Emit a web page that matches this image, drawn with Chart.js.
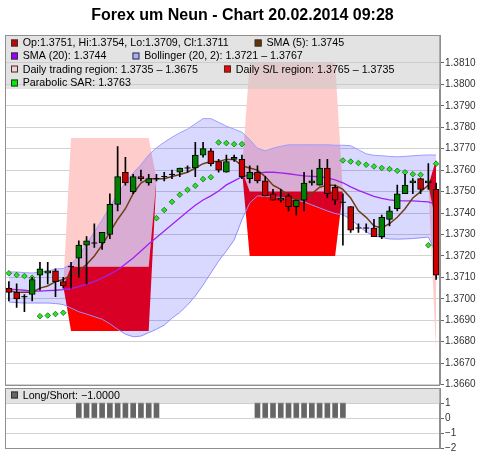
<!DOCTYPE html>
<html>
<head>
<meta charset="utf-8">
<script src="https://cdn.jsdelivr.net/npm/chart.js@4/dist/chart.umd.min.js"></script>
<style>
html, body { margin: 0; padding: 0; background: #fff; }
#wrap { position: relative; width: 480px; height: 457px; }
#wrap canvas { position: absolute; left: 0; top: 0; }
</style>
</head>
<body>
<div id="wrap">
  <canvas id="price" width="480" height="457"></canvas>
  <canvas id="signal" width="480" height="457"></canvas>
</div>
<script>
// EUR/USD M5 candles, 20.02.2014
const chartTitle = 'Forex um Neun - Chart 20.02.2014 09:28';

const opens = [1.3705,1.3703,1.3701,1.3702,1.3711,1.3712,1.3713,1.3708,1.3715,1.3719,
  1.3725,1.3726,1.3726,1.3730,1.3744,1.3759,1.3750,1.3757,1.3754,1.3756,
  1.3757,1.3758,1.3759,1.3761,1.3761,1.3767,1.3769,1.3764,1.3759,1.3765,
  1.3765,1.3756,1.3759,1.3755,1.3749,1.3746,1.3748,1.3743,1.3746,1.3754,
  1.3753,1.3761,1.3752,1.3745,1.3743,1.3733,1.3733,1.3733,1.3729,1.3737,
  1.3742,1.3749,1.3754,1.3756,1.3754,1.3751];
const highs = [1.3708,1.3707,1.3702,1.3710,1.3717,1.3717,1.3714,1.3710,1.3717,1.3727,
  1.3729,1.3735,1.3731,1.3749,1.3771,1.3766,1.3758,1.3760,1.3758,1.3758,
  1.3759,1.3760,1.3761,1.3762,1.3773,1.3773,1.3770,1.3765,1.3767,1.3767,
  1.3767,1.3762,1.3762,1.3757,1.3751,1.3751,1.3749,1.3746,1.3759,1.3760,
  1.3765,1.3765,1.3753,1.3749,1.3743,1.3735,1.3735,1.3737,1.3739,1.3743,
  1.3753,1.3758,1.3756,1.3756,1.3763,1.3754];
const lows = [1.3699,1.3696,1.3694,1.3699,1.3704,1.3707,1.3701,1.3705,1.3705,1.3710,
  1.3707,1.3724,1.3723,1.3728,1.3741,1.3753,1.3749,1.3755,1.3753,1.3755,
  1.3755,1.3756,1.3757,1.3759,1.3757,1.3766,1.3762,1.3759,1.3759,1.3764,
  1.3756,1.3754,1.3754,1.3748,1.3746,1.3745,1.3741,1.3739,1.3741,1.3753,
  1.3753,1.3747,1.3744,1.3725,1.3731,1.3731,1.3731,1.3729,1.3728,1.3734,
  1.3741,1.3749,1.3749,1.3749,1.3751,1.3709];
const closes = [1.3703,1.3700,1.3701,1.3709,1.3714,1.3713,1.3708,1.3706,1.3715,1.3725,
  1.3727,1.3726,1.3731,1.3744,1.3757,1.3754,1.3757,1.3756,1.3756,1.3756,
  1.3757,1.3758,1.3761,1.3761,1.3767,1.3770,1.3763,1.3760,1.3764,1.3766,
  1.3757,1.3759,1.3755,1.3748,1.3746,1.3747,1.3743,1.3746,1.3754,1.3755,
  1.3761,1.3749,1.3746,1.3745,1.3732,1.3733,1.3733,1.3729,1.3738,1.3741,
  1.3749,1.3753,1.3755,1.3751,1.3755,1.3711];

const sma5 = [1.3704,1.3703,1.3703,1.3703,1.3705,1.3706,1.3708,1.3709,1.3711,1.3713,
  1.3716,1.3720,1.3725,1.3731,1.3737,1.3742,1.3749,1.3754,1.3756,1.3756,
  1.3756,1.3757,1.3758,1.3759,1.3761,1.3763,1.3764,1.3764,1.3765,1.3765,
  1.3762,1.3761,1.3760,1.3757,1.3753,1.3751,1.3748,1.3746,1.3747,1.3749,
  1.3752,1.3753,1.3753,1.3751,1.3747,1.3741,1.3738,1.3734,1.3733,1.3735,
  1.3738,1.3742,1.3747,1.3750,1.3753,1.3745];
const sma20 = [1.37045,1.37043,1.3704,1.37036,1.37036,1.37038,1.3704,1.37043,1.37048,1.37057,
  1.37069,1.3708,1.37097,1.37115,1.37134,1.37162,1.3719,1.37223,1.37256,1.37286,
  1.37316,1.37347,1.37377,1.37407,1.37436,1.37461,1.3748,1.37503,1.37531,1.3755,
  1.37569,1.37578,1.37585,1.3759,1.3759,1.37587,1.37583,1.37578,1.37573,1.37571,
  1.37569,1.37564,1.37555,1.37541,1.37522,1.37506,1.37492,1.37478,1.37468,1.37461,
  1.37458,1.37457,1.37457,1.37454,1.37452,1.3744];
const bbUpper = [1.37125,1.37125,1.37122,1.3712,1.37125,1.37129,1.37139,1.37141,1.37162,1.372,
  1.37256,1.37312,1.37368,1.37429,1.37489,1.37541,1.37587,1.37625,1.37671,1.37704,
  1.3773,1.37753,1.37774,1.37791,1.37816,1.3784,1.3784,1.37823,1.37805,1.37791,
  1.37777,1.37742,1.37702,1.3769,1.37702,1.37711,1.37718,1.37718,1.37718,1.37718,
  1.37718,1.37718,1.37716,1.37716,1.37714,1.37695,1.37676,1.37669,1.37667,1.37664,
  1.37662,1.37664,1.37667,1.37669,1.37671,1.3767];
const bbLower = [1.36985,1.36982,1.3698,1.3698,1.3698,1.3698,1.36978,1.36973,1.36957,1.3694,
  1.36929,1.36917,1.36905,1.36884,1.36858,1.36835,1.36823,1.36826,1.36842,1.36858,
  1.36877,1.3691,1.36936,1.36971,1.37013,1.37064,1.3712,1.37176,1.37223,1.37274,
  1.37368,1.37447,1.3748,1.37478,1.37475,1.37473,1.37468,1.37461,1.37452,1.37438,
  1.37424,1.3741,1.37398,1.37391,1.37372,1.3734,1.37312,1.37293,1.37286,1.37279,
  1.37278,1.37279,1.37281,1.37284,1.37288,1.3721];
const psar = [1.37119,1.37111,1.37106,1.37098,1.36919,1.36922,1.36929,1.36935,null,null,
  null,null,null,null,null,null,null,null,null,1.37376,
  1.37414,1.37452,1.37485,1.37508,1.37527,1.37558,1.37567,1.37729,1.37726,1.37721,
  1.37721,null,null,null,null,null,null,null,null,null,
  null,null,null,1.37645,1.3764,1.37633,1.37625,1.37617,1.3761,1.37605,
  1.37597,1.3759,1.37581,1.37578,1.3725,1.3763];

// daily regions: both edges meet at the boundary candles
const N = null;
const tradeTop = [N,N,N,N,N,N,N,1.3706,1.3775,1.3775,
  1.3775,1.3775,1.3775,1.3775,1.3775,1.3775,1.3775,1.3775,1.3775,1.3756,
  N,N,N,N,N,N,N,N,N,N,
  1.3760,1.3810,1.3810,1.3810,1.3810,1.3810,1.3810,1.3810,1.3810,1.3810,
  1.3810,1.3810,1.3810,1.3750,N,N,N,N,N,N,
  N,N,N,N,1.3753,1.3735];
const tradeBottom = [N,N,N,N,N,N,N,1.3706,1.3715,1.3715,
  1.3715,1.3715,1.3715,1.3715,1.3715,1.3715,1.3715,1.3715,1.3715,1.3756,
  N,N,N,N,N,N,N,N,N,N,
  1.3760,1.3750,1.3750,1.3750,1.3750,1.3750,1.3750,1.3750,1.3750,1.3750,
  1.3750,1.3750,1.3750,1.3750,N,N,N,N,N,N,
  N,N,N,N,1.3753,1.3675];
const slTop = [N,N,N,N,N,N,N,1.3706,1.3715,1.3715,
  1.3715,1.3715,1.3715,1.3715,1.3715,1.3715,1.3715,1.3715,1.3715,1.3756,
  N,N,N,N,N,N,N,N,N,N,
  1.3760,1.3750,1.3750,1.3750,1.3750,1.3750,1.3750,1.3750,1.3750,1.3750,
  1.3750,1.3750,1.3750,1.3750,N,N,N,N,N,N,
  N,N,N,N,1.3753,1.3765];
const slBottom = [N,N,N,N,N,N,N,1.3706,1.3685,1.3685,
  1.3685,1.3685,1.3685,1.3685,1.3685,1.3685,1.3685,1.3685,1.3685,1.3756,
  N,N,N,N,N,N,N,N,N,N,
  1.3760,1.3720,1.3720,1.3720,1.3720,1.3720,1.3720,1.3720,1.3720,1.3720,
  1.3720,1.3720,1.3720,1.3750,N,N,N,N,N,N,
  N,N,N,N,1.3753,1.3735];

// position per candle; each bar is plotted at the following candle
const longShort = [0,0,0,0,0,0,0,0,1,1, 1,1,1,1,1,1,1,1,1,0,
  0,0,0,0,0,0,0,0,0,0, 0,1,1,1,1,1,1,1,1,1,
  1,1,1,0,0,0,0,0,0,0, 0,0,0,0,0,-1];

const priceAxis = { min: 1.3660, max: 1.3823, step: 0.001, highestLabel: 1.3810 };
const signalAxis = { min: -2, max: 2, step: 1, highestLabel: 1 };

const FONT = '"Liberation Sans", Arial, sans-serif';
Chart.defaults.font.family = FONT;

const last = closes.length - 1;
const f4 = v => v.toFixed(4);
const minus = s => String(s).replace('-', '\u2212');
const candleRange = { min: -0.5, max: closes.length - 0.5 };

// legend panel drawn over the top of each plot
const panelLegend = {
  id: 'panelLegend',
  afterDraw(chart, args, opts) {
    const { ctx, chartArea: a } = chart;
    ctx.save();
    ctx.strokeStyle = '#8f8f8f';
    ctx.lineWidth = 1;
    ctx.strokeRect(Math.round(a.left) + 0.5, Math.round(a.top) + 0.5,
                   Math.round(a.right - a.left) - 1, Math.round(a.bottom - a.top));
    ctx.fillStyle = 'rgba(200,200,200,0.5)';
    ctx.fillRect(Math.round(a.left) + 1, Math.round(a.top) + 1,
                 Math.round(a.right - a.left) - 1, opts.height);
    ctx.font = '10.7px ' + FONT;
    ctx.textBaseline = 'middle';
    opts.rows.forEach((row, r) => {
      const cy = a.top + opts.first + opts.step * r;
      let x = Math.round(a.left) + 6;
      row.forEach(item => {
        ctx.fillStyle = item.color;
        ctx.fillRect(x, Math.round(cy) - 3.5, 7, 7);
        ctx.strokeStyle = '#333';
        ctx.strokeRect(x + 0.5, Math.round(cy) - 3, 6, 6);
        ctx.fillStyle = '#000';
        ctx.fillText(item.text, x + 11.7, cy + 0.5);
        x += 11.7 + ctx.measureText(item.text).width + 26;
      });
    });
    ctx.restore();
  }
};

function regionDatasets(top, bottom, color, order) {
  const runs = [];
  let run = null;
  top.forEach((t, i) => {
    if (t === null) { run = null; return; }
    if (!run) { run = { top: [], bottom: [] }; runs.push(run); }
    run.top.push({ x: i, y: t });
    run.bottom.push({ x: i, y: bottom[i] });
  });
  const sets = [];
  runs.forEach(r => {
    sets.push({ type: 'line', data: r.top, fill: '+1', backgroundColor: color,
      borderColor: 'rgba(0,0,0,0)', borderWidth: 1, pointRadius: 0, tension: 0, order });
    sets.push({ type: 'line', data: r.bottom, fill: false,
      borderColor: 'rgba(0,0,0,0)', borderWidth: 1, pointRadius: 0, tension: 0, order });
  });
  return sets;
}

const idx = closes.map((_, i) => i);
const bodyData = [], bodyColors = [], dojiData = [];
idx.forEach(i => {
  if (opens[i] === closes[i]) {
    dojiData.push({ x: i, y: closes[i] });
  } else {
    bodyData.push({ x: i, y: [opens[i], closes[i]] });
    bodyColors.push(closes[i] > opens[i] ? '#008000' : '#cc0000');
  }
});
const series = arr => idx.map(i => ({ x: i, y: arr[i] }));

const priceDatasets = [
  { type: 'bar', data: bodyData, backgroundColor: bodyColors, borderColor: '#000',
    borderWidth: 1, borderSkipped: false, barThickness: 6, grouped: false, order: 0 },
  { type: 'line', data: dojiData, showLine: false, pointStyle: 'line', pointRadius: 3,
    pointBorderColor: '#000', pointBorderWidth: 1, order: 0 },
  { type: 'bar', data: idx.map(i => ({ x: i, y: [lows[i], highs[i]] })), backgroundColor: '#000',
    borderWidth: 0, barThickness: 1, grouped: false, order: 1 },
  { type: 'line', data: series(psar), showLine: false, pointStyle: 'rectRot', pointRadius: 2.8,
    pointBackgroundColor: '#2fe02f', pointBorderColor: '#0b6b0b', pointBorderWidth: 0.8, order: 2 },
  { type: 'line', data: series(sma5), borderColor: '#6e3d12', borderWidth: 1.5,
    pointRadius: 0, tension: 0, fill: false, order: 3 },
  { type: 'line', data: series(sma20), borderColor: '#a020f0', borderWidth: 1.3,
    pointRadius: 0, tension: 0, fill: false, order: 4 },
  { type: 'line', data: series(bbUpper), borderColor: '#9c9cff', borderWidth: 1,
    pointRadius: 0, tension: 0, fill: '+1', backgroundColor: 'rgba(0,0,255,0.15)', order: 5 },
  { type: 'line', data: series(bbLower), borderColor: '#9c9cff', borderWidth: 1,
    pointRadius: 0, tension: 0, fill: false, order: 5 },
  ...regionDatasets(slTop, slBottom, '#ff0000', 7),
  ...regionDatasets(tradeTop, tradeBottom, '#ffcccc', 8)
];

function timeAxis() {
  return { type: 'linear', display: false, offset: false, bounds: 'ticks',
    min: candleRange.min, max: candleRange.max, grid: { offset: false } };
}

function rightAxis(cfg, fmt) {
  return {
    position: 'right',
    min: cfg.min, max: cfg.max,
    afterFit(axis) { axis.width = 40; },
    afterBuildTicks(axis) {
      axis.ticks = axis.ticks.filter(t => t.value <= cfg.highestLabel + cfg.step / 10);
    },
    ticks: { stepSize: cfg.step, autoSkip: false, padding: 1, color: '#333',
      font: { size: 10, family: FONT }, callback: v => fmt(v) },
    grid: { color: '#d2d2d2', tickColor: '#666', tickLength: 4, drawTicks: true },
    border: { color: '#8f8f8f' }
  };
}

new Chart(document.getElementById('price'), {
  type: 'line',
  data: { datasets: priceDatasets },
  options: {
    responsive: false, animation: false, devicePixelRatio: 1,
    layout: { padding: { left: 5, top: 0, right: 0, bottom: 72.4 } },
    scales: {
      x: timeAxis(),
      y: rightAxis(priceAxis, v => v.toFixed(4))
    },
    plugins: {
      legend: { display: false },
      tooltip: { enabled: false },
      title: { display: true, text: chartTitle, color: '#000',
        font: { size: 16, weight: 'bold', family: FONT }, padding: { top: 6, bottom: 9.8 } },
      panelLegend: {
        height: 53, first: 7.6, step: 13.3,
        rows: [
          [{ color: '#cc0000', text: `Op:${f4(opens[last])}, Hi:${f4(highs[last])}, Lo:${f4(lows[last])}, Cl:${f4(closes[last])}` },
           { color: '#663300', text: `SMA (5): ${f4(sma5[last])}` }],
          [{ color: '#9900ff', text: `SMA (20): ${f4(sma20[last])}` },
           { color: '#aaaaff', text: `Bollinger (20, 2): ${f4(bbLower[last])} \u2013 ${f4(bbUpper[last])}` }],
          [{ color: '#ffcccc', text: `Daily trading region: ${f4(tradeTop[last])} \u2013 ${f4(tradeBottom[last])}` },
           { color: '#ff0000', text: `Daily S/L region: ${f4(slTop[last])} \u2013 ${f4(slBottom[last])}` }],
          [{ color: '#00ee00', text: `Parabolic SAR: ${f4(psar[last])}` }]
        ]
      }
    }
  },
  plugins: [panelLegend]
});

new Chart(document.getElementById('signal'), {
  type: 'bar',
  data: {
    datasets: [{
      data: longShort.map((v, i) => ({ x: i + 1, y: v === 0 ? null : v })),
      backgroundColor: '#666666', borderWidth: 0, barThickness: 5, grouped: false, clip: 0
    }]
  },
  options: {
    responsive: false, animation: false, devicePixelRatio: 1,
    layout: { padding: { left: 5, top: 388, right: 0, bottom: 9 } },
    scales: {
      x: timeAxis(),
      y: rightAxis(signalAxis, v => minus(v))
    },
    plugins: {
      legend: { display: false },
      tooltip: { enabled: false },
      panelLegend: {
        height: 14.5, first: 7.4, step: 13.3,
        rows: [[{ color: '#666666', text: `Long/Short: ${minus(f4(longShort[last]))}` }]]
      }
    }
  },
  plugins: [panelLegend]
});
</script>
</body>
</html>
